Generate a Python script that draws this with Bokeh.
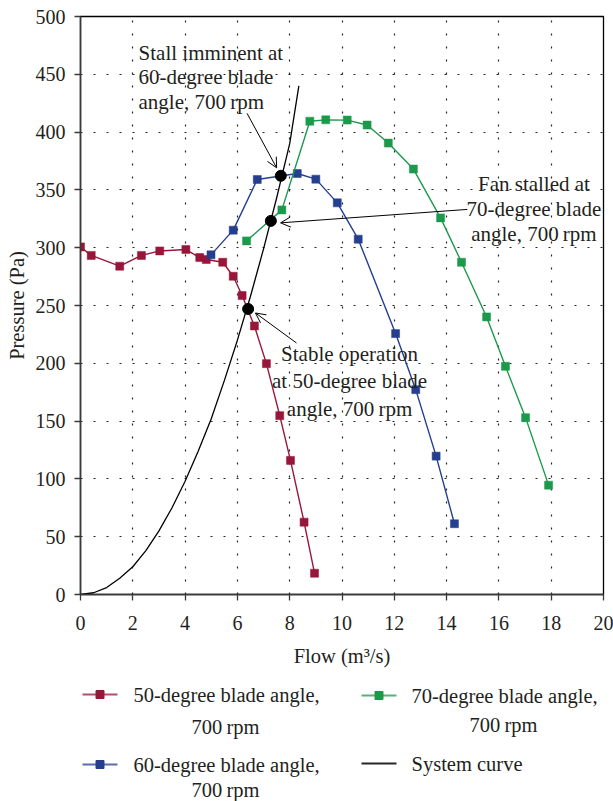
from bokeh.plotting import figure
from bokeh.layouts import column
from bokeh.models import Range1d, FixedTicker, Arrow, OpenHead
from bokeh.core.properties import value
from bokeh.embed import file_html
from bokeh.resources import INLINE

# ---------------- data ----------------
flow_50 = [0, 0.41, 1.50, 2.33, 3.03, 4.03, 4.56, 4.81, 5.44, 5.84, 6.18, 6.65, 7.11, 7.62, 8.03, 8.55, 8.95]
pres_50 = [300.7, 293.3, 284, 293.3, 297.2, 298.4, 291.5, 289.8, 287.4, 275.3, 258.6, 232.3, 199.7, 154.7, 116, 62.6, 18.4]

flow_60 = [4.99, 5.84, 6.76, 8.29, 9.00, 9.82, 10.62, 12.05, 12.82, 13.60, 14.30]
pres_60 = [293.8, 315.2, 359, 364.2, 359.3, 338.8, 307.4, 225.7, 177.2, 119.7, 61.2]

flow_70 = [6.35, 7.70, 8.77, 9.38, 10.20, 10.96, 11.77, 12.73, 13.77, 14.57, 15.53, 16.25, 17.02, 17.90]
pres_70 = [305.9, 332.7, 409.4, 410.6, 410.4, 406.1, 390.5, 368, 325.8, 287.4, 240.1, 197.4, 153, 94.6]

flow_sys = [0, 0.5, 1, 1.5, 2, 2.5, 3, 3.5, 4, 4.5, 5, 5.5, 6, 6.5, 7, 7.5, 8, 8.35]
pres_sys = [0, 1.5, 6, 14, 24, 38, 55, 75, 98, 124, 152, 185, 220, 258, 299, 343, 390, 440]

op_flow = [7.66, 7.28, 6.41]
op_pres = [362.2, 323.2, 247.0]

x_ticks = list(range(0, 21, 2))
y_ticks = list(range(0, 501, 50))

series_names = ["50-degree blade angle,", "60-degree blade angle,", "70-degree blade angle,", "System curve"]
rpm_line = "700\u2009rpm"

RED, BLUE, GREEN = "#98163A", "#243F8E", "#1C9A4B"
FONT = value("Liberation Serif")
TXT = "#231f20"

W = 613
H_MAIN = 680
H_LEG = 121

# ---------------- main plot ----------------
p = figure(width=W, height=H_MAIN, x_range=Range1d(0, 20), y_range=Range1d(0, 500),
           output_backend="svg", toolbar_location=None,
           min_border_left=80, min_border_right=10, min_border_top=16, min_border_bottom=86)
p.background_fill_color = "white"
p.border_fill_color = "white"
p.outline_line_color = "black"
p.outline_line_width = 1.3

p.xaxis.ticker = FixedTicker(ticks=x_ticks)
p.yaxis.ticker = FixedTicker(ticks=y_ticks)
p.xgrid.ticker = FixedTicker(ticks=x_ticks)
p.ygrid.ticker = FixedTicker(ticks=y_ticks)
for ax in (p.xaxis, p.yaxis):
    ax.axis_line_color = "#3a3a3a"
    ax.axis_line_width = 1.6
    ax.major_tick_line_color = "#3a3a3a"
    ax.major_tick_line_width = 1.3
    ax.major_tick_in = 0
    ax.major_tick_out = 6
    ax.minor_tick_line_color = None
    ax.major_label_text_font = "Liberation Serif"
    ax.major_label_text_font_size = "20px"
    ax.major_label_text_color = TXT
    ax.axis_label_text_font = "Liberation Serif"
    ax.axis_label_text_font_size = "20.5px"
    ax.axis_label_text_font_style = "normal"
    ax.axis_label_text_color = TXT
p.xaxis.axis_label = "Flow (m\u00b3/s)"
p.yaxis.axis_label = "Pressure (Pa)"
p.xaxis.major_label_standoff = 15
p.xaxis.axis_label_standoff = 12
p.yaxis.major_label_standoff = 9
p.yaxis.axis_label_standoff = 5

for g in (p.xgrid, p.ygrid):
    g.grid_line_color = "black"
    g.grid_line_dash = "2 11"
    g.grid_line_width = 1.2
    g.grid_line_alpha = 0.85

# system curve
p.line(flow_sys, pres_sys, line_color="black", line_width=1.3)

for xs, ys, c in ((flow_50, pres_50, RED), (flow_60, pres_60, BLUE), (flow_70, pres_70, GREEN)):
    p.line(xs, ys, line_color=c, line_width=1.4)
    p.scatter(xs, ys, marker="square", size=8, fill_color=c, line_color=c, line_alpha=0.5)

p.scatter(op_flow, op_pres, marker="circle", size=11, fill_color="black", line_color="black")

# annotations (positions in data coordinates)
ann_x = [2.22, 2.22, 2.22, 17.34, 17.34, 17.34, 10.29, 10.29, 10.29]
ann_y = [468.4, 447.6, 426.0, 355.0, 333.3, 311.7, 207.8, 184.4, 160.2]
ann_t = ["Stall imminent at", "60-degree blade", "angle, 700\u2009rpm",
         "Fan stalled at", "70-degree blade", "angle, 700\u2009rpm",
         "Stable operation", "at 50-degree blade", "angle, 700\u2009rpm"]
ann_a = ["left"] * 3 + ["center"] * 6
p.text(x=ann_x, y=ann_y, text=ann_t, text_align=ann_a, text_baseline="middle",
       text_font=FONT, text_font_size="21px", text_color=TXT)

arrows = [(6.37, 416.2, 7.50, 369.1), (14.79, 333.1, 7.65, 321.5), (8.26, 217.6, 6.69, 243.5)]
for xs, ys, xe, ye in arrows:
    p.add_layout(Arrow(end=OpenHead(size=10, line_width=1, line_color="black"),
                       x_start=xs, y_start=ys, x_end=xe, y_end=ye,
                       line_width=1, line_color="black"))

# ---------------- legend panel (page-pixel coordinates; frame aligned with main plot) ----------------
leg = figure(width=W, height=H_LEG, x_range=Range1d(80, 603), y_range=Range1d(H_LEG, 0),
             output_backend="svg", toolbar_location=None, min_border=0,
             x_axis_type=None, y_axis_type=None)
leg.outline_line_color = None
leg.xgrid.visible = False
leg.ygrid.visible = False
leg.background_fill_color = "white"
leg.border_fill_color = "white"

sw_x0 = [82, 82, 361, 361]
sw_y = [14, 84, 15, 83]
sw_col = [RED, BLUE, GREEN, "black"]
sw_mark = [True, True, True, False]
for x0, y0, c, m in zip(sw_x0, sw_y, sw_col, sw_mark):
    leg.line([x0, x0 + 35], [y0, y0], line_color=c, line_width=1.8, line_alpha=0.75 if m else 0.85)
    if m:
        leg.scatter([x0 + 17.5], [y0], marker="square", size=8, fill_color=c, line_color=c)

lab_x = [133, 133, 411, 411, 225, 225, 503]
lab_y = [14, 84, 15, 83, 46, 109, 44]
lab_t = [series_names[0], series_names[1], series_names[2], series_names[3],
         rpm_line, rpm_line, rpm_line]
lab_a = ["left"] * 4 + ["center"] * 3
leg.text(x=lab_x, y=lab_y, text=lab_t, text_align=lab_a, text_baseline="middle",
         text_font=FONT, text_font_size="20.5px", text_color=TXT)

layout = column(p, leg, spacing=0)
open("out.html", "w").write(file_html(layout, INLINE))
